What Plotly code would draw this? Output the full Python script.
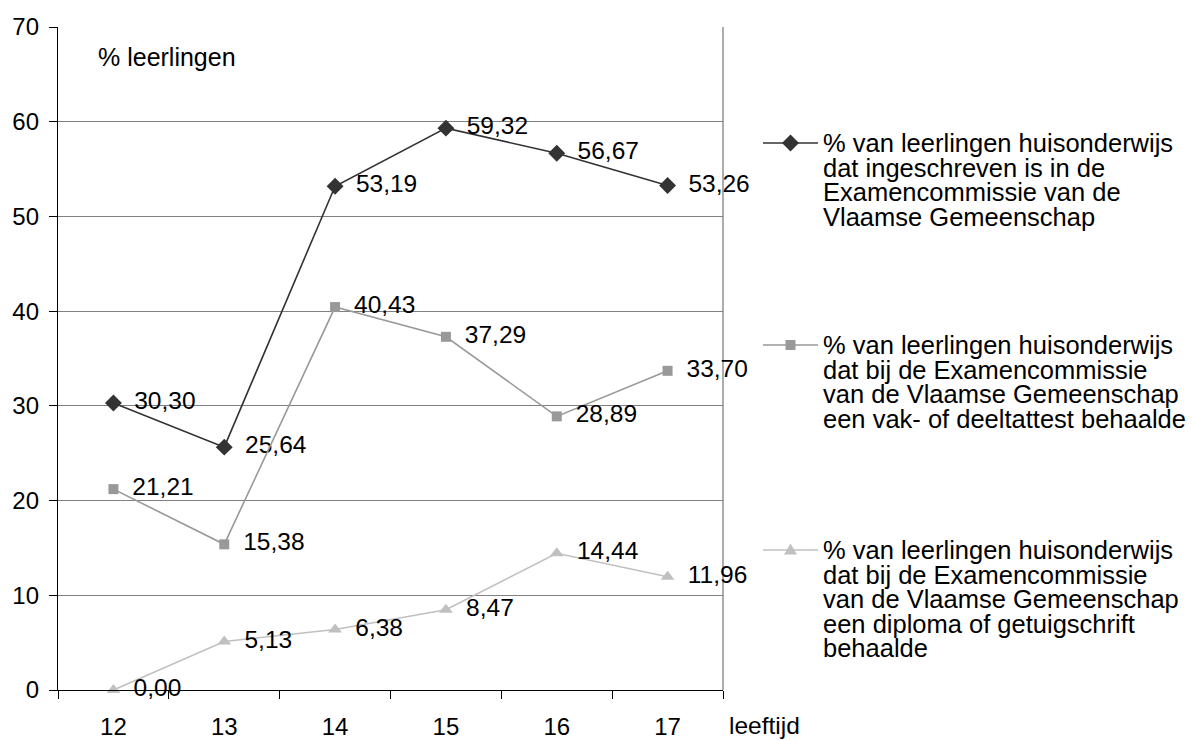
import plotly.graph_objects as go

# Age groups (years) and percentages per series
ages = ["12", "13", "14", "15", "16", "17"]
ingeschreven = [30.30, 25.64, 53.19, 59.32, 56.67, 53.26]
deelattest = [21.21, 15.38, 40.43, 37.29, 28.89, 33.70]
diploma = [0.00, 5.13, 6.38, 8.47, 14.44, 11.96]

legend_lines = [
    ["% van leerlingen huisonderwijs", "dat ingeschreven is in de",
     "Examencommissie van de", "Vlaamse Gemeenschap"],
    ["% van leerlingen huisonderwijs", "dat bij de Examencommissie",
     "van de Vlaamse Gemeenschap", "een vak- of deeltattest behaalde"],
    ["% van leerlingen huisonderwijs", "dat bij de Examencommissie",
     "van de Vlaamse Gemeenschap", "een diploma of getuigschrift",
     "behaalde"],
]
y_ticks = [0, 10, 20, 30, 40, 50, 60, 70]

W, H = 1192, 740
L, R, T, B = 58, 723, 27, 690          # plot-area edges in pixels
FONT = "Liberation Sans, Arial, sans-serif"

def px_x(p):
    return (p - L) / (R - L)

def px_y(p):
    return (B - p) / (B - T)

series = [
    (ingeschreven, "#333333", "diamond", 13),
    (deelattest, "#999999", "square", 10),
    (diploma, "#c0c0c0", "triangle-up", 12),
]

fig = go.Figure()
for vals, color, symbol, size in series:
    fig.add_trace(go.Scatter(
        x=ages, y=vals, mode="lines+markers+text",
        line=dict(color=color, width=1.6),
        marker=dict(color=color, symbol=symbol, size=size, line=dict(width=0)),
        texttemplate=" \u2009%{y:.2f}", textposition="middle right",
        textfont=dict(family=FONT, size=24.5, color="#000000"),
        showlegend=False, cliponaxis=False,
    ))

shapes = [
    # gray right border of the plot area
    dict(type="line", xref="paper", yref="paper", x0=1, x1=1, y0=0, y1=1,
         line=dict(color="#808080", width=1.3), layer="below"),
]
annotations = [
    dict(text="% leerlingen", xref="paper", yref="paper",
         x=px_x(96), y=px_y(57), xanchor="left", yanchor="middle",
         showarrow=False, font=dict(family=FONT, size=25, color="#000")),
    dict(text="leeftijd", xref="paper", yref="paper",
         x=px_x(728), y=px_y(725), xanchor="left", yanchor="middle",
         showarrow=False, borderpad=0,
         font=dict(family=FONT, size=24.5, color="#000")),
]

# hand-built legend: sample line + marker, then one annotation per text line
entry_tops = [143, 345, 550]
line_gap = 24.6
for (vals, color, symbol, size), top, lines in zip(series, entry_tops, legend_lines):
    shapes.append(dict(type="line", xref="paper", yref="paper",
                       x0=px_x(763), x1=px_x(818), y0=px_y(top), y1=px_y(top),
                       line=dict(color=color, width=1.6)))
    cx, cy = 790.5, top
    if symbol == "diamond":
        r = 8.5
        pts = [(cx + r, cy), (cx, cy - r), (cx - r, cy), (cx, cy + r)]
    elif symbol == "square":
        r = 5
        pts = [(cx - r, cy - r), (cx + r, cy - r), (cx + r, cy + r), (cx - r, cy + r)]
    else:
        pts = [(cx - 6.5, cy + 4.5), (cx + 6.5, cy + 4.5), (cx, cy - 6.5)]
    path = "M " + " L ".join(f"{px_x(a):.5f},{px_y(b):.5f}" for a, b in pts) + " Z"
    shapes.append(dict(type="path", xref="paper", yref="paper", path=path,
                       fillcolor=color, line=dict(width=0)))
    for i, txt in enumerate(lines):
        annotations.append(dict(
            text=txt, xref="paper", yref="paper",
            x=px_x(822), y=px_y(top + i * line_gap),
            xanchor="left", yanchor="middle", showarrow=False, borderpad=0,
            font=dict(family=FONT, size=25.5, color="#000")))

fig.update_layout(
    width=W, height=H,
    margin=dict(l=L, r=W - R, t=T, b=H - B, pad=0),
    paper_bgcolor="white", plot_bgcolor="white",
    separators=", ",
    font=dict(family=FONT, size=24, color="#000"),
    shapes=shapes, annotations=annotations,
    xaxis=dict(
        type="category", range=[-0.5, 5.5], tickson="boundaries",
        ticks="outside", ticklen=8, tickcolor="#000", tickwidth=1.3,
        showline=True, linecolor="#000", linewidth=1.3,
        showgrid=False, zeroline=False, ticklabelstandoff=15,
        automargin=False, tickfont=dict(family=FONT, size=24),
    ),
    yaxis=dict(
        range=[0, 70], tickvals=y_ticks,
        ticks="outside", ticklen=8, tickcolor="#000", tickwidth=1.3,
        showline=True, linecolor="#000", linewidth=1.3,
        showgrid=True, gridcolor="#808080", gridwidth=1.3,
        zeroline=False, ticklabelstandoff=5,
        automargin=False, tickfont=dict(family=FONT, size=24),
    ),
)

fig.write_html("out.html")
